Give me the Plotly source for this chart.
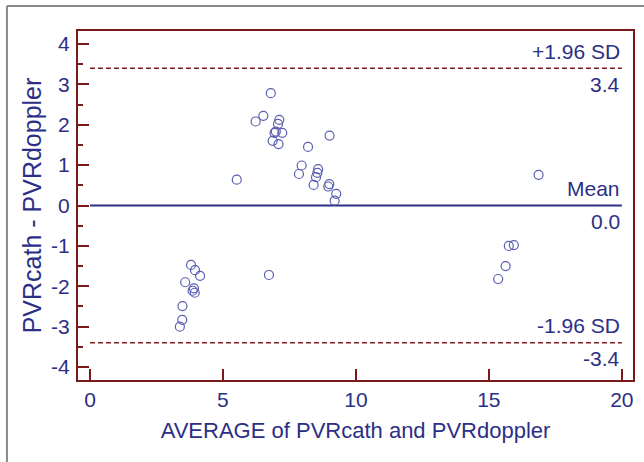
import plotly.graph_objects as go

# ---- data ----
avg = [6.80, 6.52, 6.23, 7.12, 7.07, 6.99, 6.94, 7.23, 6.87, 7.09, 9.01, 8.20, 5.52,
       7.96, 7.86, 8.58, 8.55, 8.50, 8.41, 9.00, 8.96, 9.26, 9.20,
       3.80, 3.95, 4.14, 3.58, 3.91, 3.86, 3.94, 3.48, 3.47, 3.38, 6.73,
       16.87, 15.75, 15.94, 15.63, 15.35]
diff = [2.78, 2.22, 2.08, 2.12, 2.02, 1.83, 1.80, 1.80, 1.60, 1.52, 1.73, 1.45, 0.64,
        0.99, 0.78, 0.90, 0.81, 0.70, 0.51, 0.53, 0.47, 0.29, 0.12,
        -1.47, -1.60, -1.74, -1.90, -2.05, -2.11, -2.16, -2.49, -2.83, -3.00, -1.72,
        0.76, -1.00, -0.98, -1.50, -1.82]
mean_diff = 0.0
upper_loa = 3.4
lower_loa = -3.4
line_x = [0, 20]
x_ticks = [0, 5, 10, 15, 20]
x_ticklabels = ["0", "5", "10", "15", "20"]
y_ticks = [-4, -3, -2, -1, 0, 1, 2, 3, 4]
y_ticklabels = ["-4", "-3", "-2", "-1", "0", "1", "2", "3", "4"]
y_minor = [-3.5, -2.5, -1.5, -0.5, 0.5, 1.5, 2.5, 3.5]

NAVY = "#2b2f86"
DRED = "#7a1a1a"
MARK = "#5a5eb0"
FONT = "Liberation Sans, Arial, sans-serif"
FS = 21

fig = go.Figure()
fig.add_trace(go.Scatter(x=line_x, y=[upper_loa, upper_loa], mode="lines",
                         line=dict(color=DRED, width=1.5, dash="5px,3px"), hoverinfo="skip"))
fig.add_trace(go.Scatter(x=line_x, y=[lower_loa, lower_loa], mode="lines",
                         line=dict(color=DRED, width=1.5, dash="5px,3px"), hoverinfo="skip"))
fig.add_trace(go.Scatter(x=line_x, y=[mean_diff, mean_diff], mode="lines",
                         line=dict(color=NAVY, width=2), hoverinfo="skip"))
fig.add_trace(go.Scatter(x=avg, y=diff, mode="markers",
                         marker=dict(symbol="circle-open", size=9, color=MARK,
                                     line=dict(width=1.2, color=MARK))))

ann_font = dict(family=FONT, size=FS, color=NAVY)
labels = [("+1.96 SD", upper_loa, "bottom", 3), ("%.1f" % upper_loa, upper_loa, "top", -3),
          ("Mean", mean_diff, "bottom", 4), ("%.1f" % mean_diff, mean_diff, "top", -2),
          ("-1.96 SD", lower_loa, "bottom", 4), ("%.1f" % lower_loa, lower_loa, "top", -2)]
for txt, yv, anc, sh in labels:
    fig.add_annotation(x=line_x[1], y=yv, text=txt, showarrow=False, xanchor="right",
                       yanchor=anc, yshift=sh, font=ann_font, xref="x", yref="y")

# outer gray frame (left and top edges)
fig.add_shape(type="line", xref="paper", yref="paper", x0=-0.128, x1=-0.128, y0=-0.3, y1=1.0716,
              line=dict(color="#8a8a8a", width=2))
fig.add_shape(type="line", xref="paper", yref="paper", x0=-0.128, x1=1.1, y0=1.0716, y1=1.0716,
              line=dict(color="#8a8a8a", width=2))

fig.update_layout(
    width=644, height=462,
    margin=dict(l=78, r=11, t=31, b=82),
    paper_bgcolor="white", plot_bgcolor="white",
    showlegend=False,
    font=dict(family=FONT, size=FS, color=NAVY),
    xaxis=dict(range=[-0.45, 20.42], tickmode="array", tickvals=x_ticks, ticktext=x_ticklabels,
               ticks="inside", ticklen=11, tickwidth=1.5, tickcolor=DRED,
               showline=True, mirror=True, linecolor=DRED, linewidth=2,
               showgrid=False, zeroline=False, automargin=False,
               tickfont=dict(family=FONT, size=FS, color=NAVY), ticklabelstandoff=0,
               title=dict(text="AVERAGE of PVRcath and PVRdoppler",
                          font=dict(family=FONT, size=22, color=NAVY), standoff=12)),
    yaxis=dict(range=[-4.32, 4.32], tickmode="array", tickvals=y_ticks, ticktext=y_ticklabels,
               ticks="inside", ticklen=11, tickwidth=1.5, tickcolor=DRED,
               minor=dict(tickvals=y_minor, ticks="inside", ticklen=5, tickwidth=1.5, tickcolor=DRED),
               showline=True, mirror=True, linecolor=DRED, linewidth=2,
               showgrid=False, zeroline=False, automargin=False,
               tickfont=dict(family=FONT, size=FS, color=NAVY), ticklabelstandoff=2,
               title=dict(text="PVRcath - PVRdoppler",
                          font=dict(family=FONT, size=25, color=NAVY), standoff=2)),
)

fig.write_html("out.html", config={"displayModeBar": False},
               post_script="document.body.style.margin='0';")
